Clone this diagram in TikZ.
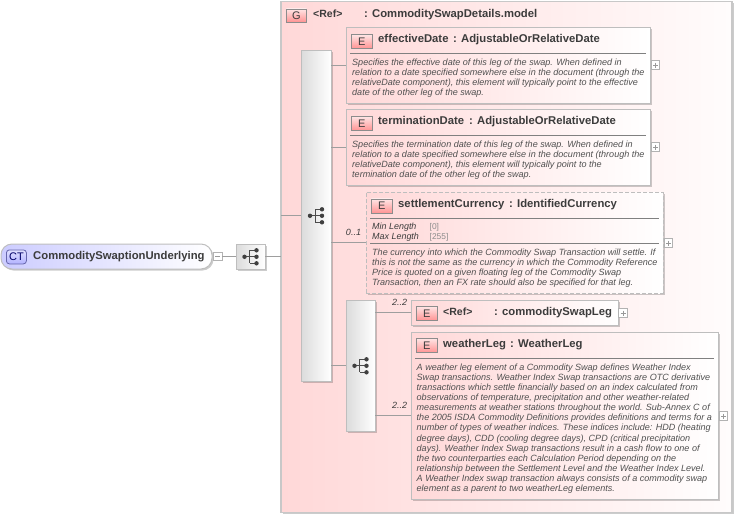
\documentclass[tikz,border=0pt]{standalone}
\usepackage{fontspec}
\setmainfont{Liberation Sans}
\usetikzlibrary{shadows,calc}
\definecolor{edge}{HTML}{BEBEBE}
\definecolor{ink}{HTML}{3C3C3C}
\definecolor{desc}{HTML}{505050}
\definecolor{pinkL}{HTML}{FFD8D8}
\definecolor{pinkR}{HTML}{FFFCFC}
\tikzset{
  x=1pt,y=-1pt,
  shd/.style={drop shadow={shadow xshift=1.5pt,shadow yshift=-1.5pt,opacity=.2,fill=black}},
  boxbase/.style={minimum width=#1,inner sep=0pt,outer sep=0pt,anchor=north west},
  elembox/.style={draw=edge,line width=1pt,left color=pinkL,right color=white,shd},
  optbox/.style={draw=edge,line width=1pt,dashed,dash pattern=on 4pt off 2pt,left color=pinkL,right color=white,shd},
  groupbox/.style={draw=edge!85,line width=1.3pt,left color=pinkL,right color=pinkR,shd},
  seqbox/.style={draw=edge,line width=1pt,left color=black!14,right color=white,shd},
  rootbox/.style={draw=edge,line width=1pt,rounded corners=11pt,left color=blue!20,right color=white,shd},
  badge/.style={draw=black!45,line width=.7pt,minimum width=21pt,minimum height=14pt,inner sep=0pt,
    top color=red!10,bottom color=red!42,font=\fontsize{11}{11}\selectfont,text=ink},
  badgeG/.style={badge},
  badgeCT/.style={draw=black!55!blue!60,line width=.8pt,rounded corners=3pt,minimum width=20pt,minimum height=14pt,inner sep=0pt,
    top color=blue!12,bottom color=blue!30,font=\fontsize{11}{11}\selectfont,text=black!60!blue},
  title/.style={anchor=base west,inner sep=0pt,font=\fontsize{11.3}{12}\bfseries\selectfont,text=ink},
  para/.style={anchor=north west,inner sep=0pt,align=left,font=\fontsize{9.05}{10.12}\itshape\selectfont,text=desc},
  facet/.style={anchor=base west,inner sep=0pt,font=\fontsize{8.95}{10}\itshape\selectfont,text=ink},
  facetv/.style={anchor=base west,inner sep=0pt,font=\fontsize{8.4}{10}\selectfont,text=black!45},
  mult/.style={anchor=base,inner sep=0pt,font=\fontsize{9}{10}\itshape\selectfont,text=ink},
  expander/.style={draw=black!30,fill=white,line width=.6pt,minimum size=8.5pt,inner sep=0pt},
  conn/.style={draw=black!38,line width=.7pt},
  sep/.style={draw=black!50,line width=.7pt},
  pics/seqicon/.style={code={
    \draw[black!70,line width=1pt] (-6,0.3)--(6,0.3) (-0.7,-6.2)--(-0.7,6.8) (-0.7,-6.2)--(6,-6.2) (-0.7,6.8)--(6,6.8);
    \fill[black!75] (-6,0.3) circle (2.2) (6,-6.2) circle (2.2) (6,0.3) circle (2.2) (6,6.8) circle (2.2);
  }},
}
\begin{document}
\begin{tikzpicture}
\useasboundingbox (0,0) rectangle (738,517);
\fill[white] (0,0) rectangle (738,517);
% group
\node[groupbox,boxbase=451pt,minimum height=511pt] (group) at (281,1.5) {};
\node[badgeG,minimum width=20pt,minimum height=13pt,anchor=north west] (gbadge) at (286,8.5) {G};
\node[title] (gname) at (313,17.5) {\fontsize{10.5}{12}\selectfont<Ref>};
\node[title] (gtype) at (364,17.5) {: CommoditySwapDetails.model};
% sequences
\node[seqbox,boxbase=30pt,minimum height=331pt] (seqA) at (301,50) {};
\node[seqbox,boxbase=29pt,minimum height=131pt] (seqB) at (346,300) {};
\node[seqbox,boxbase=29pt,minimum height=25pt] (seqC) at (236,244) {};
\pic at (seqA.center) {seqicon};
\pic at (seqB.center) {seqicon};
\pic at (seqC.center) {seqicon};
% root
\node[rootbox,boxbase=211pt,minimum height=25pt] (root) at (1,244) {};
\node[badgeCT,anchor=north west] (ctbadge) at (6,249.5) {CT};
\node[title] (rootname) at (33,259) {CommoditySwaptionUnderlying};
\node[expander,anchor=west] (rootminus) at (213,256.5) {};
\draw[black!40,line width=.6pt] ($(rootminus.center)+(-2.5,0)$)--($(rootminus.center)+(2.5,0)$);
% effectiveDate
\node[elembox,boxbase=304pt,minimum height=76pt] (eff) at (346,27) {};
\node[badge,anchor=north west] (effb) at (351,34) {E};
\node[title] (effn) at (378,42.5) {effectiveDate};
\node[title] (efft) at (453,42.5) {: AdjustableOrRelativeDate};
\draw[sep] (350,53.5)--(646,53.5);
\node[para] (effd) at (352,58.6) {Specifies the effective date of this leg of the swap. When defined in\\relation to a date specified somewhere else in the document (through the\\relativeDate component), this element will typically point to the effective\\date of the other leg of the swap.};
% terminationDate
\node[elembox,boxbase=304pt,minimum height=76pt] (term) at (346,109) {};
\node[badge,anchor=north west] (termb) at (351,116) {E};
\node[title] (termn) at (378,124.5) {terminationDate};
\node[title] (termt) at (469,124.5) {: AdjustableOrRelativeDate};
\draw[sep] (350,135.5)--(646,135.5);
\node[para] (termd) at (352,140.6) {Specifies the termination date of this leg of the swap. When defined in\\relation to a date specified somewhere else in the document (through the\\relativeDate component), this element will typically point to the\\termination date of the other leg of the swap.};
% settlementCurrency
\node[optbox,boxbase=297pt,minimum height=101pt] (sett) at (366,192) {};
\node[badge,anchor=north west] (settb) at (371,198.5) {E};
\node[title] (settn) at (398,207) {settlementCurrency};
\node[title] (settt) at (509,207) {: IdentifiedCurrency};
\draw[sep] (370,218.5)--(659,218.5);
\node[facet] (minl) at (372,229.3) {Min Length};
\node[facetv] (minv) at (429.5,229) {[0]};
\node[facet] (maxl) at (372,239.3) {Max Length};
\node[facetv] (maxv) at (429.5,239) {[255]};
\draw[sep] (370,243.5)--(659,243.5);
\node[para] (settd) at (372,248.6) {The currency into which the Commodity Swap Transaction will settle. If\\this is not the same as the currency in which the Commodity Reference\\Price is quoted on a given floating leg of the Commodity Swap\\Transaction, then an FX rate should also be specified for that leg.};
% commoditySwapLeg
\node[elembox,boxbase=207pt,minimum height=25pt] (swap) at (411,300) {};
\node[badge,anchor=north west] (swapb) at (416,306) {E};
\node[title] (swapn) at (443,315) {\fontsize{10.5}{12}\selectfont<Ref>};
\node[title] (swapt) at (494,315) {: commoditySwapLeg};
% weatherLeg
\node[elembox,boxbase=307pt,minimum height=167pt] (wea) at (411,332) {};
\node[badge,anchor=north west] (weab) at (416,338) {E};
\node[title] (wean) at (443,347) {weatherLeg};
\node[title] (weat) at (510,347) {: WeatherLeg};
\draw[sep] (415,358.5)--(714,358.5);
\node[para] (wead) at (416.5,363.4) {A weather leg element of a Commodity Swap defines Weather Index\\Swap transactions. Weather Index Swap transactions are OTC derivative\\transactions which settle financially based on an index calculated from\\observations of temperature, precipitation and other weather-related\\measurements at weather stations throughout the world. Sub-Annex C of\\the 2005 ISDA Commodity Definitions provides definitions and terms for a\\number of types of weather indices. These indices include: HDD (heating\\degree days), CDD (cooling degree days), CPD (critical precipitation\\days). Weather Index Swap transactions result in a cash flow to one of\\the two counterparties each Calculation Period depending on the\\relationship between the Settlement Level and the Weather Index Level.\\A Weather Index swap transaction always consists of a commodity swap\\element as a parent to two weatherLeg elements.};
% expanders
\foreach \n/\t/\xx/\yy in {xeff/eff/655.5/65, xterm/term/655.5/147, xsett/sett/668.5/243, xswap/swap/623/313, xwea/wea/723.5/416}{
  \node[expander] (\n) at (\xx,\yy) {};
  \draw[black!40,line width=.6pt] ($(\n.center)+(-2.5,0)$)--($(\n.center)+(2.5,0)$) ($(\n.center)+(0,-2.5)$)--($(\n.center)+(0,2.5)$);
}
% connectors
\draw[conn] (rootminus.east)--(seqC.west);
\draw[conn] (seqC.east)--(group.west |- seqC.east);
\draw[conn] (group.west |- seqA.west)--(seqA.west);
\draw[conn] (seqA.east |- eff.west)--(eff.west);
\draw[conn] (seqA.east |- term.west)--(term.west);
\draw[conn] (seqA.east |- sett.west)--(sett.west);
\draw[conn] (seqA.east |- seqB.west)--(seqB.west);
\draw[conn] (seqB.east |- swap.west)--(swap.west);
\draw[conn] (seqB.east |- wea.west)--(wea.west);
% multiplicities
\node[mult] (m1) at (353.5,235) {0..1};
\node[mult] (m2) at (399.5,305.5) {2..2};
\node[mult] (m3) at (399.5,408) {2..2};
\end{tikzpicture}
\end{document}
